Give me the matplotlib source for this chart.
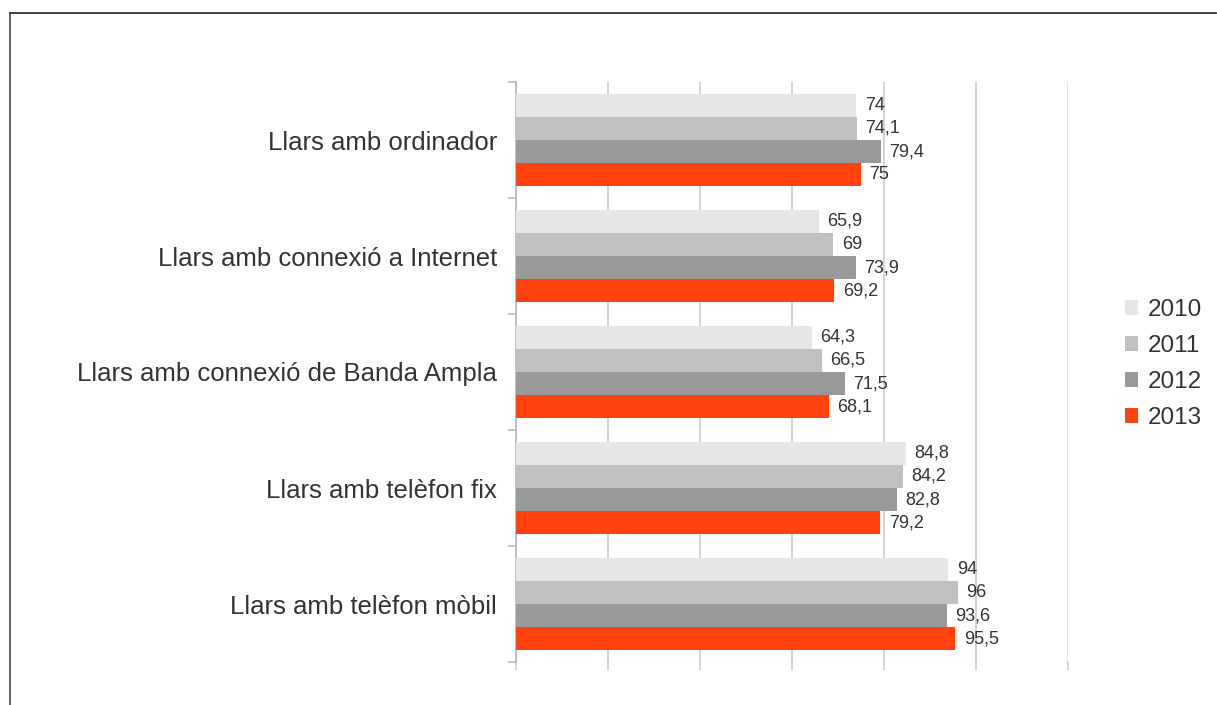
import matplotlib
matplotlib.use("Agg")
import matplotlib.pyplot as plt
from matplotlib.lines import Line2D
from matplotlib.patches import Patch
import numpy as np

plt.rcParams['font.family'] = ['Liberation Sans', 'DejaVu Sans']

categories = ["Llars amb ordinador", "Llars amb connexió a Internet",
              "Llars amb connexió de Banda Ampla", "Llars amb telèfon fix",
              "Llars amb telèfon mòbil"]
years = ["2010", "2011", "2012", "2013"]
v2010 = [74, 65.9, 64.3, 84.8, 94]
v2011 = [74.1, 69, 66.5, 84.2, 96]
v2012 = [79.4, 73.9, 71.5, 82.8, 93.6]
v2013 = [75, 69.2, 68.1, 79.2, 95.5]
series = [v2010, v2011, v2012, v2013]
colors = ["#e6e6e6", "#c0c0c0", "#999999", "#ff420e"]
xticks = [0, 20, 40, 60, 80, 100, 120]

W, H = 1217, 705
fig = plt.figure(figsize=(W / 100, H / 100), dpi=100)
ax = fig.add_axes([516 / W, 1 - 662 / H, (1068 - 516) / W, (662 - 82) / H])

n = len(categories)
bh = 0.2
y = np.arange(n)
for k, (vals, col) in enumerate(zip(series, colors)):
    pos = y - 0.4 + bh * (k + 0.5)
    ax.barh(pos, vals, height=bh, color=col, zorder=3, label=years[k])
    for p, v in zip(pos, vals):
        s = (f"{v:g}").replace(".", ",")
        ax.annotate(s, (v, p), xytext=(6, 0), textcoords="offset points",
                    va="center", ha="left", fontsize=13, color="#333333", zorder=4)

ax.set_xlim(0, 120)
ax.set_ylim(n - 0.5, -0.5)
ax.set_xticks(xticks)
ax.set_xticklabels([])
ax.xaxis.grid(True, color="#c8c8c8", linewidth=1.1, zorder=0)
ax.get_xgridlines()[-1].set_color("#dedede")
ax.tick_params(axis="x", length=6, color="#c8c8c8", width=1.1)
ax.set_yticks(y)
ax.set_yticklabels(categories, fontsize=18.5, color="#333333")
ax.tick_params(axis="y", which="major", length=0, pad=13.5)
ax.set_yticks(np.arange(n + 1) - 0.5, minor=True)
ax.tick_params(axis="y", which="minor", length=6, color="#b3b3b3", width=1.1)
for sp in ["top", "right", "bottom"]:
    ax.spines[sp].set_visible(False)
ax.spines["left"].set_color("#b3b3b3")
ax.spines["left"].set_linewidth(1.1)

handles = [Patch(facecolor=c, edgecolor="none", label=l) for c, l in zip(colors, years)]
leg = fig.legend(handles=handles, loc="center left", bbox_to_anchor=(1125 / W, 1 - 364 / H),
                 frameon=False, fontsize=17.5, handlelength=0.55, handleheight=0.55,
                 handletextpad=0.4, labelspacing=0.58, labelcolor="#333333",
                 borderpad=0, borderaxespad=0)

# figure border (top and left)
fig.add_artist(Line2D([10 / W, 10 / W], [1 - 13 / H, 0], transform=fig.transFigure,
                      color="#555555", linewidth=1.3))
fig.add_artist(Line2D([10 / W, 1216 / W], [1 - 13 / H, 1 - 13 / H], transform=fig.transFigure,
                      color="#333333", linewidth=1.3))

fig.savefig("out.png", dpi=100)
